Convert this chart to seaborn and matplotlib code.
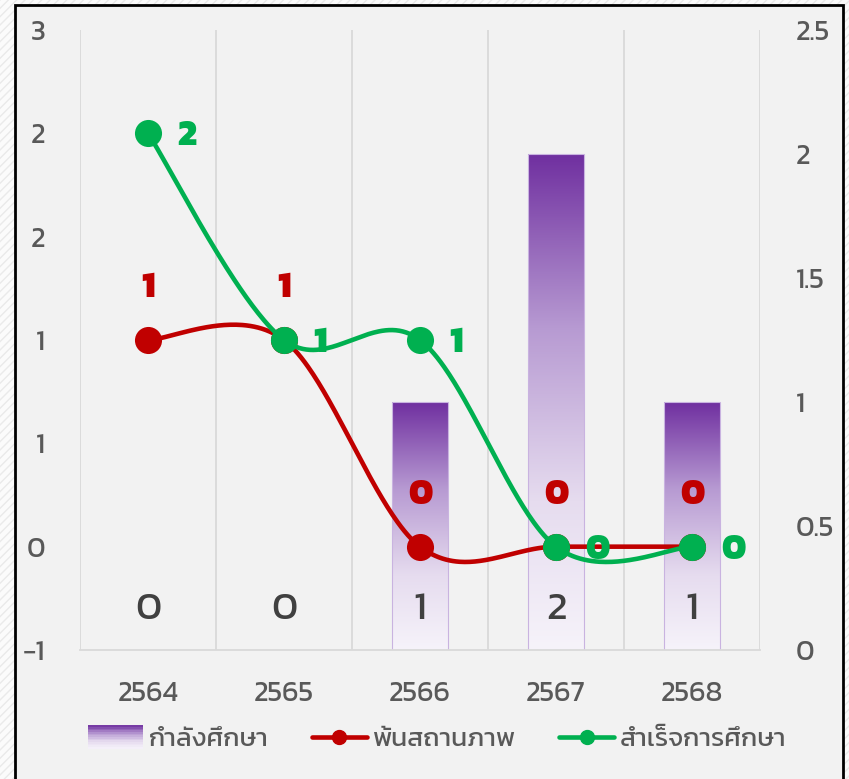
import numpy as np
import pandas as pd
import matplotlib
matplotlib.use("Agg")
import matplotlib.pyplot as plt
import seaborn as sns
from matplotlib.patches import Rectangle
from matplotlib.legend_handler import HandlerBase
from matplotlib.lines import Line2D
from matplotlib.colors import LinearSegmentedColormap

# ---------------- data ----------------
years = ["2564", "2565", "2566", "2567", "2568"]
studying = [0, 0, 1, 2, 1]          # กำลังศึกษา (right axis, bars)
dropped = [1, 1, 0, 0, 0]           # พ้นสถานภาพ (left axis)
graduated = [2, 1, 1, 0, 0]         # สำเร็จการศึกษา (left axis)
left_ticks = [-0.5, 0, 0.5, 1, 1.5, 2, 2.5]
left_tick_labels = ["\u22121", "0", "1", "1", "2", "2", "3"]
right_ticks = [0, 0.5, 1, 1.5, 2, 2.5]
right_tick_labels = ["0", "0.5", "1", "1.5", "2", "2.5"]
series_names = ["กำลังศึกษา", "พ้นสถานภาพ", "สำเร็จการศึกษา"]

sns.set_theme(style="white")
plt.rcParams["font.family"] = ["Kanit", "DejaVu Sans"]

PURPLE = "#7030A0"
RED = "#C00000"
GREEN = "#00B050"
TICK = "#595959"
GRID = "#D9D9D9"
BG = "#F2F2F2"
TS = 20.5  # tick label size

W, H = 849, 779
fig = plt.figure(figsize=(W / 100, H / 100), dpi=100)
fig.patch.set_facecolor("#FBFBFB")
fig.patch.set_hatch("////")
fig.patch.set_edgecolor("#EAEAEA")
fig.patch.set_linewidth(0)
frame = Rectangle((15 / W, -0.05), (843 - 15) / W, 1.05 - 5 / H, transform=fig.transFigure,
                  facecolor=BG, edgecolor="black", linewidth=2, zorder=-10)
fig.patches.append(frame)

L, R, T, B = 80, 760, 30, 650
ax_bar = fig.add_axes([L / W, 1 - B / H, (R - L) / W, (B - T) / H])
ax_bar.set_facecolor("none")

df = pd.DataFrame({"year": years, "studying": studying})
sns.barplot(data=df, x="year", y="studying", ax=ax_bar, color=PURPLE, width=0.41,
            saturation=1, zorder=2)
ax_bar.set_xlim(-0.5, 4.5)
ax_bar.set_ylim(0, 2.5)

# gradient fill for bars
cmap = LinearSegmentedColormap.from_list(
    "g", [(0, "#F6F3FA"), (0.3, "#E6DCEF"), (0.65, "#B79AD2"), (1.0, PURPLE)])
grad = np.linspace(0, 1, 256).reshape(-1, 1)
for p in ax_bar.patches:
    x0, y0 = p.get_x(), p.get_y()
    w, h = p.get_width(), p.get_height()
    if h <= 0:
        p.set_visible(False)
        continue
    p.set_facecolor("none")
    p.set_edgecolor("#C9B3E0")
    p.set_linewidth(0.8)
    im = ax_bar.imshow(grad, cmap=cmap, aspect="auto", origin="lower",
                       extent=[x0, x0 + w, y0, y0 + h], zorder=1.5)
    im.set_clip_path(p)
ax_bar.set_xlim(-0.5, 4.5)
ax_bar.set_ylim(0, 2.5)

# bar labels at base
for i, v in enumerate(studying):
    ax_bar.annotate(str(v), (i, 0), xytext=(0, 40), textcoords="offset pixels",
                    ha="center", va="center", fontsize=29, color="#404040", zorder=5)

ax_bar.set_xticks(range(len(years)))
ax_bar.set_xticklabels(years)
ax_bar.set_xticks(np.arange(-0.5, 5.0, 1.0), minor=True)
ax_bar.tick_params(axis="x", which="major", length=0, pad=22.5, labelsize=TS, labelcolor=TICK)
ax_bar.tick_params(axis="x", which="minor", length=7, color=GRID, width=1.3)
ax_bar.grid(False)
ax_bar.xaxis.grid(True, which="minor", color=GRID, linewidth=1.3)
ax_bar.set_xlabel("")
ax_bar.set_ylabel("")
for s in ["top", "left", "right"]:
    ax_bar.spines[s].set_visible(False)
ax_bar.spines["bottom"].set_color(GRID)
ax_bar.spines["bottom"].set_linewidth(1.3)

# ---------------- lines ----------------
ax_line = ax_bar.twinx()
ax_line.set_facecolor("none")

# right axis (bars)
ax_bar.yaxis.tick_right()
ax_bar.set_yticks(right_ticks)
ax_bar.set_yticklabels(right_tick_labels)
ax_bar.tick_params(axis="y", length=0, pad=26, labelsize=TS, labelcolor=TICK)
for lab in ax_bar.get_yticklabels():
    lab.set_ha("left")

# left axis (lines)
ax_line.yaxis.tick_left()
ax_line.set_ylim(-0.5, 2.5)
ax_line.set_xlim(-0.5, 4.5)
ax_line.set_yticks(left_ticks)
ax_line.set_yticklabels(left_tick_labels)
ax_line.tick_params(axis="y", length=0, pad=25, labelsize=TS, labelcolor=TICK)
for lab in ax_line.get_yticklabels():
    lab.set_ha("right")
for s in ax_line.spines.values():
    s.set_visible(False)
ax_line.grid(False)


def excel_smooth(xs, ys, n=80):
    P = np.column_stack([xs, ys]).astype(float)
    out = []
    for i in range(len(P) - 1):
        p0 = P[i - 1] if i > 0 else P[i]
        p1, p2 = P[i], P[i + 1]
        p3 = P[i + 2] if i + 2 < len(P) else P[i + 1]
        c1 = p1 + (p2 - p0) / 6
        c2 = p2 - (p3 - p1) / 6
        t = np.linspace(0, 1, n)[:, None]
        seg = (1 - t) ** 3 * p1 + 3 * (1 - t) ** 2 * t * c1 + 3 * (1 - t) * t ** 2 * c2 + t ** 3 * p2
        out.append(seg if i == 0 else seg[1:])
    return np.vstack(out)


xpos = np.arange(len(years))
for vals, col, z in [(dropped, RED, 3), (graduated, GREEN, 4)]:
    c = excel_smooth(xpos, vals)
    ax_line.plot(c[:, 0], c[:, 1], color=col, linewidth=3.3, zorder=z,
                 solid_capstyle="round")
    sns.scatterplot(x=xpos, y=vals, ax=ax_line, color=col, s=19.5 ** 2, linewidth=0,
                    zorder=z + 0.5, legend=False)

for i, v in enumerate(dropped):
    ax_line.annotate(str(v), (i, v), xytext=(0, 52), textcoords="offset pixels",
                     ha="center", va="center", fontsize=26, fontweight=800,
                     color=RED, zorder=6)
for i, v in enumerate(graduated):
    ax_line.annotate(str(v), (i, v), xytext=(29, -3), textcoords="offset pixels",
                     ha="left", va="center", fontsize=26, fontweight=800,
                     color=GREEN, zorder=6)
ax_line.set_xlim(-0.5, 4.5)
ax_line.set_ylim(-0.5, 2.5)


# ---------------- legend ----------------
class GradHandler(HandlerBase):
    def create_artists(self, legend, orig, xd, yd, width, height, fontsize, trans):
        arts = []
        n = 14
        h2 = height * 1.25
        y0 = yd - (h2 - height) / 2
        for k in range(n):
            frac = (k + 0.5) / n
            r = Rectangle((xd, y0 + h2 * k / n), width, h2 / n + 0.3,
                          facecolor=cmap(frac), edgecolor="none", transform=trans)
            arts.append(r)
        return arts


h_bar = Rectangle((0, 0), 1, 1)
h_red = Line2D([], [], color=RED, linewidth=3.3, marker="o", markersize=10)
h_green = Line2D([], [], color=GREEN, linewidth=3.3, marker="o", markersize=10)
leg = fig.legend([h_bar, h_red, h_green], series_names, loc="center",
                 bbox_to_anchor=(437 / W, 1 - 740 / H), ncol=3, frameon=False,
                 fontsize=19, handlelength=2.1, handletextpad=0.2, columnspacing=1.65,
                 handler_map={Rectangle: GradHandler()})
for t in leg.get_texts():
    t.set_color(TICK)

fig.savefig("out.png", dpi=100, facecolor=fig.get_facecolor())
